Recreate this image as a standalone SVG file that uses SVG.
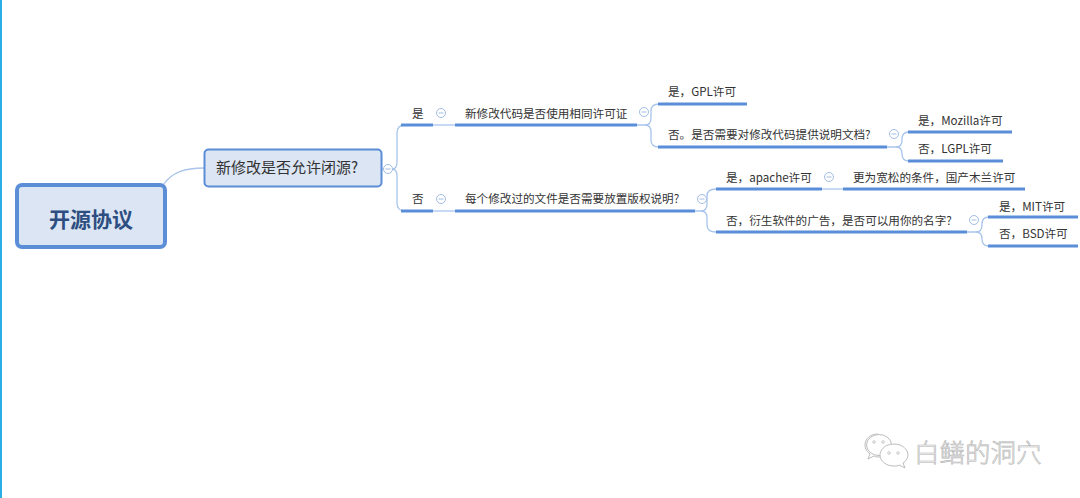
<svg xmlns="http://www.w3.org/2000/svg" width="1080" height="498" viewBox="0 0 1080 498">
<style>
.t{font-family:"Noto Sans CJK SC","Microsoft YaHei","Liberation Sans",sans-serif;font-size:11.6px;fill:#333}
.ul{stroke:#5a8ed8;stroke-width:3;fill:none}
.cn{stroke:#a9c5ec;stroke-width:1.3;fill:none}
.cl{fill:#fff;stroke:#a3bde3;stroke-width:1}
.clm{stroke:#a3bde3;stroke-width:1}
</style>
<rect x="0" y="0" width="1080" height="498" fill="#fff"/>
<rect x="0" y="0" width="2" height="498" fill="#2aaee6"/>

<g id="connectors">
<path class="cn" d="M163,185 C172,172 185,168 204,168"/>
<path class="cn" d="M382,169 L392,169 Q397,169 397,162 L397,133 Q397,125 405,125"/>
<path class="cn" d="M392,169 Q397,169 397,176 L397,203 Q397,211 405,211"/>
<path class="cn" d="M433,125 L455,125"/>
<path class="cn" d="M433,211 L455,211"/>
<path class="cn" d="M637,125 L645,125 Q651,125 651,118 L651,111 Q651,104 659,104"/>
<path class="cn" d="M645,125 Q651,125 651,132 L651,140 Q651,147 659,147"/>
<path class="cn" d="M695,211 L701,211 Q707,211 707,204 L707,196 Q707,189 716,189"/>
<path class="cn" d="M701,211 Q707,211 707,218 L707,225 Q707,232 716,232"/>
<path class="cn" d="M822,189 L843,189"/>
<path class="cn" d="M887,147 L896,147 Q902,147 902,140 L902,139 Q902,132 909,132"/>
<path class="cn" d="M896,147 Q902,147 902,154 L902,154 Q902,161 909,161"/>
<path class="cn" d="M967,232 L976,232 Q982,232 982,225 L982,224 Q982,217 989,217"/>
<path class="cn" d="M976,232 Q982,232 982,239 L982,239 Q982,246 989,246"/>
</g>

<g id="root">
<rect x="17" y="185" width="148" height="62" rx="5" fill="#dbe5f3" stroke="#5b8ed6" stroke-width="4"/>
<text x="91" y="227" text-anchor="middle" font-family="'Noto Sans CJK SC','Microsoft YaHei',sans-serif" font-size="21" font-weight="bold" fill="#2d4e80">开源协议</text>
</g>

<g id="n_closed">
<rect x="204.5" y="149.5" width="177" height="37" rx="4" fill="#dbe5f3" stroke="#5b8ed6" stroke-width="2"/>
<text x="216" y="173" font-family="'Noto Sans CJK SC','Microsoft YaHei',sans-serif" font-size="15" fill="#333">新修改是否允许闭源?</text>
<circle class="cl" cx="388" cy="169" r="4.5"/><line class="clm" x1="385.5" y1="169" x2="390.5" y2="169"/>
</g>

<g id="n_yes">
<text class="t" x="412" y="118">是</text>
<line class="ul" x1="401" y1="125" x2="433" y2="125"/>
<circle class="cl" cx="441" cy="113" r="4.5"/><line class="clm" x1="438.5" y1="113" x2="443.5" y2="113"/>
</g>

<g id="n_same_license">
<text class="t" x="465" y="118">新修改代码是否使用相同许可证</text>
<line class="ul" x1="455" y1="125" x2="637" y2="125"/>
<circle class="cl" cx="644" cy="112" r="4.5"/><line class="clm" x1="641.5" y1="112" x2="646.5" y2="112"/>
</g>

<g id="n_gpl">
<text class="t" x="668" y="96">是，GPL许可</text>
<line class="ul" x1="658" y1="104" x2="747" y2="104"/>
</g>

<g id="n_doc">
<text class="t" x="668" y="139">否。是否需要对修改代码提供说明文档?</text>
<line class="ul" x1="658" y1="147" x2="887" y2="147"/>
<circle class="cl" cx="894" cy="134" r="4.5"/><line class="clm" x1="891.5" y1="134" x2="896.5" y2="134"/>
</g>

<g id="n_mozilla">
<text class="t" x="918" y="125">是，Mozilla许可</text>
<line class="ul" x1="908" y1="132" x2="1012" y2="132"/>
</g>

<g id="n_lgpl">
<text class="t" x="918" y="153">否，LGPL许可</text>
<line class="ul" x1="908" y1="161" x2="1003" y2="161"/>
</g>

<g id="n_no">
<text class="t" x="412" y="203">否</text>
<line class="ul" x1="401" y1="211" x2="433" y2="211"/>
<circle class="cl" cx="441" cy="199" r="4.5"/><line class="clm" x1="438.5" y1="199" x2="443.5" y2="199"/>
</g>

<g id="n_copyright">
<text class="t" x="465" y="203">每个修改过的文件是否需要放置版权说明?</text>
<line class="ul" x1="455" y1="211" x2="695" y2="211"/>
<circle class="cl" cx="702" cy="199" r="4.5"/><line class="clm" x1="699.5" y1="199" x2="704.5" y2="199"/>
</g>

<g id="n_apache">
<text class="t" x="726" y="182">是，apache许可</text>
<line class="ul" x1="716" y1="189" x2="822" y2="189"/>
<circle class="cl" cx="829" cy="177" r="4.5"/><line class="clm" x1="826.5" y1="177" x2="831.5" y2="177"/>
</g>

<g id="n_mulan">
<text class="t" x="853" y="182">更为宽松的条件，国产木兰许可</text>
<line class="ul" x1="843" y1="189" x2="1025" y2="189"/>
</g>

<g id="n_name">
<text class="t" x="726" y="225">否，衍生软件的广告，是否可以用你的名字?</text>
<line class="ul" x1="716" y1="232" x2="967" y2="232"/>
<circle class="cl" cx="974" cy="220" r="4.5"/><line class="clm" x1="971.5" y1="220" x2="976.5" y2="220"/>
</g>

<g id="n_mit">
<text class="t" x="999" y="211">是，MIT许可</text>
<line class="ul" x1="988" y1="217" x2="1078" y2="217"/>
</g>

<g id="n_bsd">
<text class="t" x="999" y="238">否，BSD许可</text>
<line class="ul" x1="988" y1="246" x2="1078" y2="246"/>
</g>

<g id="watermark">
<path d="M878,434 C870,434 865,439 865,445 C865,449 867,452 870,454 L868,459 L874,456 C876,457 878,457 880,457" fill="#fff" stroke="#bdbdbd" stroke-width="1"/>
<ellipse cx="879" cy="445" rx="12.5" ry="10.5" fill="#fff" stroke="#bdbdbd" stroke-width="1"/>
<circle cx="874" cy="442" r="1.3" fill="none" stroke="#bdbdbd" stroke-width="0.8"/>
<circle cx="883" cy="442" r="1.3" fill="none" stroke="#bdbdbd" stroke-width="0.8"/>
<path d="M894,444 C885,444 880,450 880,455 C880,461 886,466 894,466 C896,466 898,466 899,465 L905,468 L903,463 C906,461 908,458 908,455 C908,450 903,444 894,444 Z" fill="#fff" stroke="#bdbdbd" stroke-width="1"/>
<circle cx="889" cy="453" r="1.3" fill="none" stroke="#bdbdbd" stroke-width="0.8"/>
<circle cx="898" cy="453" r="1.3" fill="none" stroke="#bdbdbd" stroke-width="0.8"/>
<text x="914" y="462" font-family="'Noto Sans CJK SC',sans-serif" font-size="25.5" font-weight="300" fill="#f2f2f2" stroke="#b5b5b5" stroke-width="0.6">白鳝的洞穴</text>
</g>
</svg>
